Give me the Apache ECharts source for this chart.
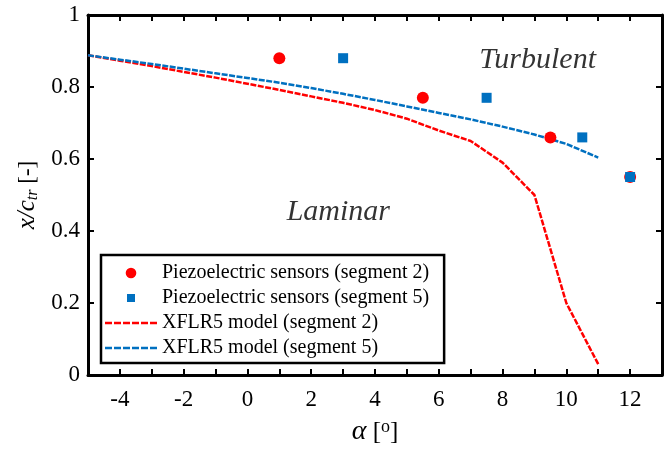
<!DOCTYPE html>
<html>
<head>
<meta charset="utf-8">
<script src="https://cdn.jsdelivr.net/npm/echarts@6/dist/echarts.min.js"></script>
<style>
html,body{margin:0;padding:0;background:#fff;}
#chart{width:665px;height:451px;}
</style>
</head>
<body>
<div id="chart"></div>
<script>
// ---- data ----
const sensorAlphaSeg2 = [1, 5.5, 9.5, 12];
const sensorXSeg2 = [0.88, 0.77, 0.66, 0.55];
const sensorAlphaSeg5 = [3, 7.5, 10.5, 12];
const sensorXSeg5 = [0.88, 0.77, 0.66, 0.55];
const modelAlpha = [-5, -4, -3, -2, -1, 0, 1, 2, 3, 4, 5, 6, 7, 8, 9, 10, 11];
const modelXSeg2 = [0.888, 0.873, 0.858, 0.842, 0.826, 0.809, 0.792, 0.774, 0.756, 0.736, 0.712, 0.679, 0.650, 0.590, 0.500, 0.200, 0.030];
const modelXSeg5 = [0.888, 0.876, 0.864, 0.851, 0.838, 0.825, 0.812, 0.797, 0.781, 0.764, 0.746, 0.728, 0.710, 0.690, 0.668, 0.642, 0.604];
const regionLabels = ['Turbulent', 'Laminar'];
const regionAlpha = [9.1, 2.85];
const regionX = [0.875, 0.453];
const seriesNames = [
  'Piezoelectric sensors (segment 2)',
  'Piezoelectric sensors (segment 5)',
  'XFLR5 model (segment 2)',
  'XFLR5 model (segment 5)'
];

const RED = '#ff0000';
const BLUE = '#0070c0';
const FONT = 'Liberation Serif';

const zip = (a, b) => a.map((v, i) => [v, b[i]]);

// legend icons (shapes only)
const ICON_CIRCLE = 'path://M0,0M14,14M12.3,7A5.3,5.3,0,1,1,1.7,7A5.3,5.3,0,1,1,12.3,7Z';
const ICON_SQUARE = 'path://M0,0M14,14M3,3h8v8h-8Z';
const ICON_DASH = 'path://M0,0h7v2.4h-7ZM9,0h7v2.4h-7ZM18,0h7v2.4h-7ZM27,0h7v2.4h-7ZM36,0h7v2.4h-7ZM45,0h7v2.4h-7Z';

const chart = echarts.init(document.getElementById('chart'), null, {renderer: 'canvas'});

const axisCommon = {
  type: 'value',
  axisLine: {show: true, onZero: false, lineStyle: {color: '#000', width: 3}},
  axisTick: {show: true, inside: true, length: 6, lineStyle: {color: '#000', width: 2}},
  splitLine: {show: false}
};

const option = {
  backgroundColor: '#fff',
  animation: false,
  grid: {left: 88, right: -4, top: 15, bottom: 76, containLabel: false},
  xAxis: [
    Object.assign({}, axisCommon, {
      min: -5, max: 13, interval: 1, position: 'bottom',
      axisLabel: {
        show: true, margin: 13, color: '#000', fontFamily: FONT, fontSize: 23,
        formatter: v => (Math.round(v) % 2 === 0 ? String(v) : '')
      },
      name: '{i|α} [{s|o}]',
      nameLocation: 'middle', nameGap: 43,
      nameTextStyle: {
        color: '#000', fontFamily: FONT, fontSize: 25,
        rich: {
          i: {fontFamily: FONT, fontStyle: 'italic', fontSize: 28, color: '#000'},
          s: {fontFamily: FONT, fontSize: 18, color: '#000', verticalAlign: 'top', padding: [0, 0, 10, 0]}
        }
      }
    }),
    Object.assign({}, axisCommon, {
      min: -5, max: 13, interval: 1, position: 'top',
      axisLabel: {show: false}
    })
  ],
  yAxis: [
    Object.assign({}, axisCommon, {
      min: 0, max: 1, interval: 0.2, position: 'left',
      axisLabel: {show: true, margin: 8, color: '#000', fontFamily: FONT, fontSize: 23},
      name: '{i|x/c}{sub|tr} [-]',
      nameLocation: 'middle', nameGap: 46, nameRotate: 90,
      nameTextStyle: {
        color: '#000', fontFamily: FONT, fontSize: 23,
        rich: {
          i: {fontFamily: FONT, fontStyle: 'italic', fontSize: 25, color: '#000'},
          sub: {fontFamily: FONT, fontStyle: 'italic', fontSize: 16, color: '#000', verticalAlign: 'bottom', padding: [8, 0, 0, 0]}
        }
      }
    }),
    Object.assign({}, axisCommon, {
      min: 0, max: 1, interval: 0.2, position: 'right',
      axisLabel: {show: false}
    })
  ],
  legend: {
    show: true,
    orient: 'vertical',
    left: 101, top: 255,
    backgroundColor: '#fff',
    borderColor: '#000', borderWidth: 2.5, borderRadius: 0,
    padding: [8, 15, 5, 4],
    itemWidth: 52, itemHeight: 14, itemGap: 5,
    symbolKeepAspect: true,
    textStyle: {color: '#000', fontFamily: FONT, fontSize: 20},
    data: [
      {name: seriesNames[0], icon: ICON_CIRCLE},
      {name: seriesNames[1], icon: ICON_SQUARE},
      {name: seriesNames[2], icon: ICON_DASH},
      {name: seriesNames[3], icon: ICON_DASH}
    ],
    z: 10
  },
  series: [
    {
      name: seriesNames[2], type: 'line', data: zip(modelAlpha, modelXSeg2),
      showSymbol: false, symbol: 'none',
      lineStyle: {color: RED, width: 2.5, type: [6, 1.5]}, itemStyle: {color: RED}, z: 2
    },
    {
      name: seriesNames[3], type: 'line', data: zip(modelAlpha, modelXSeg5),
      showSymbol: false, symbol: 'none',
      lineStyle: {color: BLUE, width: 2.5, type: [6, 1.5]}, itemStyle: {color: BLUE}, z: 2
    },
    {
      name: seriesNames[0], type: 'scatter', data: zip(sensorAlphaSeg2, sensorXSeg2),
      symbol: 'circle', symbolSize: 12, itemStyle: {color: RED, opacity: 1}, z: 3
    },
    {
      name: seriesNames[1], type: 'scatter', data: zip(sensorAlphaSeg5, sensorXSeg5),
      symbol: 'rect', symbolSize: 10, itemStyle: {color: BLUE, opacity: 1}, z: 4
    },
    {
      name: 'regions', type: 'scatter', silent: true,
      data: regionLabels.map((t, i) => ({value: [regionAlpha[i], regionX[i]], name: t})),
      symbolSize: 0, itemStyle: {color: 'transparent'},
      label: {
        show: true, position: 'inside', formatter: p => p.name,
        color: '#000', fontFamily: FONT, fontStyle: 'italic', fontSize: 30
      },
      z: 5
    }
  ]
};

chart.setOption(option);
</script>
</body>
</html>
